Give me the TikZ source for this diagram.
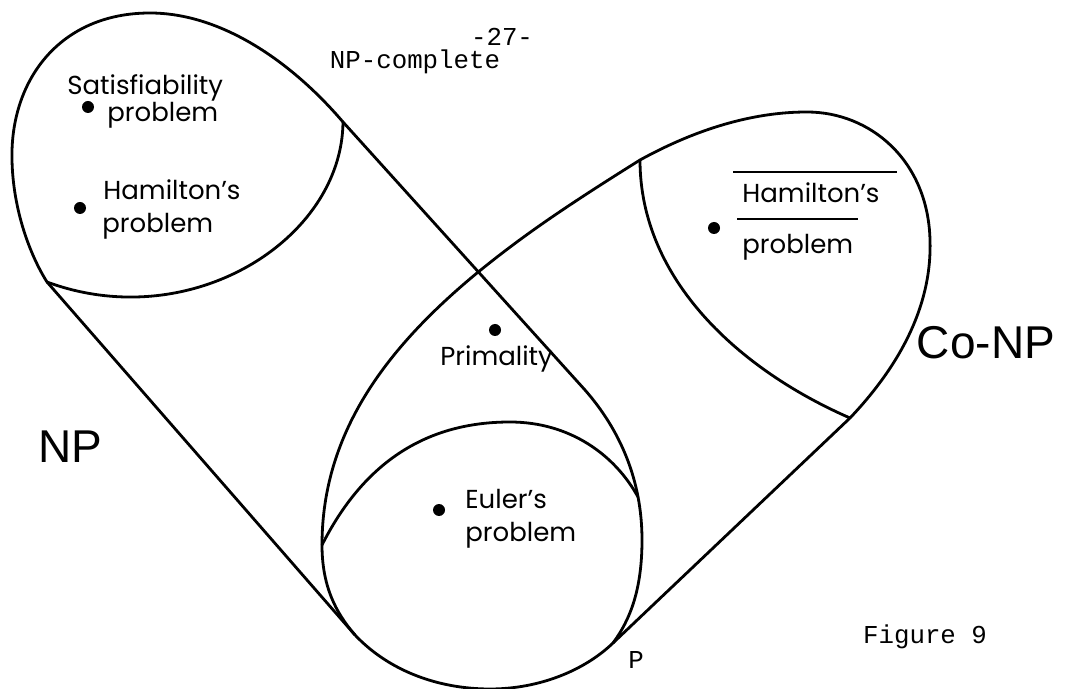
\documentclass[tikz,border=0pt]{standalone}
\usepackage{fontspec}
\setmainfont{Poppins}
\newfontfamily\twfont{Liberation Mono}
\newfontfamily\helvfont{Liberation Sans}
\usetikzlibrary{positioning}

\begin{document}
\begin{tikzpicture}[
    x=0.5pt, y=-0.5pt,
    edge/.style={line width=1.4pt, line join=round, line cap=round},
    bar/.style={line width=1.1pt},
    dot/.style={circle, fill=black, inner sep=0pt, minimum size=6pt},
    lbl/.style={anchor=base west, inner sep=0pt, font=\fontsize{13}{15}\selectfont},
    tw/.style={inner sep=0pt, font=\twfont\fontsize{12.9}{15}\selectfont},
    big/.style={inner sep=0pt, font=\helvfont\fontsize{23}{26}\selectfont}
]
\useasboundingbox (0,0) rectangle (1076,689);

% junction points
\coordinate (npA) at (343,122);
\coordinate (npB) at (47,282);
\coordinate (conpA) at (640,160);
\coordinate (conpB) at (850,418);
\coordinate (cusp) at (322,545);
\coordinate (pR) at (638,497);
\coordinate (botL) at (355,635);
\coordinate (botR) at (613,643);

% NP
\draw[edge] (npA) .. controls (290,60) and (220,13) .. (150,13)
    .. controls (60,13) and (10,80) .. (12,160)
    .. controls (13,210) and (30,255) .. (npB) -- (botL);
\draw[edge] (npA) -- (585,390) .. controls (620,430) and (642,480) .. (642,540)
    .. controls (642,590) and (630,620) .. (botR);

% bottom
\draw[edge] (botL) .. controls (390,672) and (440,689) .. (490,689)
    .. controls (540,689) and (585,670) .. (botR);

% Co-NP
\draw[edge] (botR) -- (conpB) .. controls (905,360) and (932,300) .. (930,240)
    .. controls (928,160) and (870,112) .. (807,112)
    .. controls (740,112) and (680,138) .. (conpA)
    .. controls (560,210) and (520,238) .. (477,273)
    .. controls (390,345) and (322,430) .. (cusp)
    .. controls (322,585) and (335,612) .. (botL);

% complete parts
\draw[edge] (npA) .. controls (342,240) and (190,335) .. (npB);
\draw[edge] (conpA) .. controls (640,280) and (740,370) .. (conpB);

% P
\draw[edge] (cusp) .. controls (370,450) and (440,422) .. (510,422)
    .. controls (570,422) and (615,455) .. (pR);

% problems
\node[dot] (satdot) at (88,107) {};
\node[lbl] (sat1) at (67,95) {Satisfiability};
\node[lbl] (sat2) at (107,122) {problem};

\node[dot] (hamdot) at (80,208) {};
\node[lbl] (ham1) at (103,200) {Hamilton's};
\node[lbl] (ham2) at (102,233) {problem};

\node[dot] (cohamdot) at (714,228) {};
\node[lbl] (coham1) at (742,203) {Hamilton's};
\node[lbl] (coham2) at (742,254) {problem};
\draw[bar] (733,172) -- (897,172);
\draw[bar] (737,219) -- (858,219);

\node[dot] (primdot) at (495,330) {};
\node[lbl] (prim) at (440,366) {Primality};

\node[dot] (euldot) at (439,510) {};
\node[lbl] (eul1) at (465,509) {Euler's};
\node[lbl] (eul2) at (465,541) {problem};

% class names
\node[big] (np) at (70,447) {NP};
\node[big] (conp) at (986,343) {Co-NP};
\node[tw] (npc) at (415,62) {NP-complete};
\node[tw] (pcl) at (636,660) {P};
\node[tw] (page) at (502,37) {-27-};
\node[tw] (fig) at (925,637) {Figure 9};

\end{tikzpicture}
\end{document}
